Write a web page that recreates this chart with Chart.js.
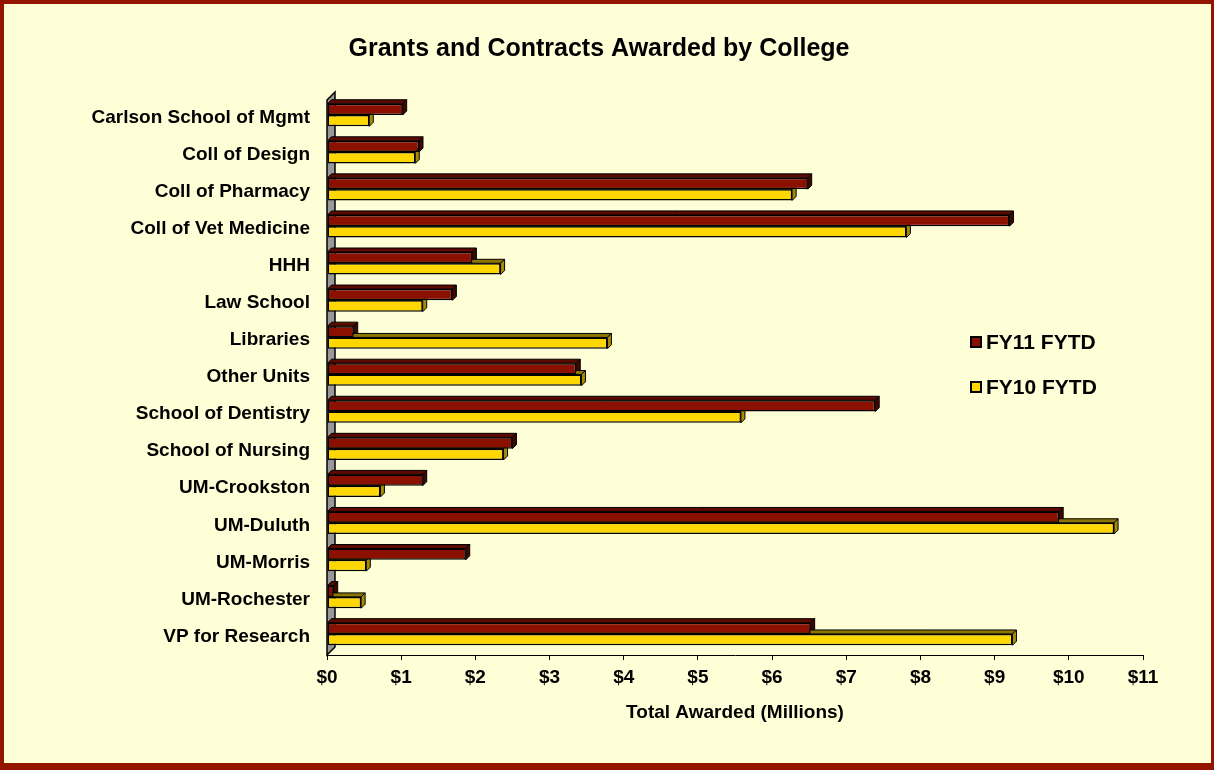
<!DOCTYPE html>
<html>
<head>
<meta charset="utf-8">
<script src="https://cdn.jsdelivr.net/npm/chart.js@4.4.0/dist/chart.umd.min.js"></script>
<style>
  html, body { margin: 0; padding: 0; }
  body { width: 1214px; height: 770px; position: relative; overflow: hidden; background: #931500; }
  #frame { position: absolute; left: 4px; top: 4px; width: 1207px; height: 759px; background: #FFFFD7; }
  #wrap { position: absolute; left: 0; top: 0; width: 1214px; height: 770px; }
  .legend { position: absolute; left: 970px; font: bold 21px "Liberation Sans", Arial, sans-serif; color: #000; }
  .legend span.box { display: inline-block; width: 8px; height: 8px; border: 2px solid #000; margin-right: 4px; vertical-align: 1px; }
</style>
</head>
<body>
<div id="frame"></div>
<div id="wrap"><canvas id="grantsChart" width="1214" height="770"></canvas></div>
<div class="legend" style="top:330px"><span class="box" style="background:#8B1000"></span>FY11 FYTD</div>
<div class="legend" style="top:375px"><span class="box" style="background:#FFD700"></span>FY10 FYTD</div>
<script>
const colleges = [
  'Carlson School of Mgmt', 'Coll of Design', 'Coll of Pharmacy', 'Coll of Vet Medicine',
  'HHH', 'Law School', 'Libraries', 'Other Units', 'School of Dentistry',
  'School of Nursing', 'UM-Crookston', 'UM-Duluth', 'UM-Morris', 'UM-Rochester',
  'VP for Research'
];
const fy11 = [1.02, 1.24, 6.48, 9.20, 1.96, 1.69, 0.36, 3.36, 7.39, 2.50, 1.29, 9.87, 1.87, 0.09, 6.52];
const fy10 = [0.57, 1.19, 6.27, 7.81, 2.34, 1.29, 3.78, 3.43, 5.58, 2.38, 0.72, 10.61, 0.53, 0.46, 9.24];
const tickMin = 0;
const tickMax = 11;

const FONT = '"Liberation Sans", Arial, sans-serif';
const DEPTH = 4;

/* fake 3D: grey wall + top/side faces of each bar */
const bars3d = {
  id: 'bars3d',
  beforeDatasetsDraw(chart) {
    const ctx = chart.ctx;
    const a = chart.chartArea;
    ctx.save();
    ctx.beginPath();
    ctx.moveTo(a.left, a.top + 1);
    ctx.lineTo(a.left + 8, a.top - 7);
    ctx.lineTo(a.left + 8, a.bottom - 8);
    ctx.lineTo(a.left, a.bottom);
    ctx.closePath();
    ctx.fillStyle = '#999999';
    ctx.fill();
    ctx.strokeStyle = '#000';
    ctx.lineWidth = 1.5;
    ctx.stroke();
    ctx.restore();

    ctx.save();
    ctx.translate(0, -2.5);
    const shades = [['#5C0A00', '#3F0700'], ['#8C7500', '#A88C00']];
    chart.data.datasets.forEach((ds, di) => {
      chart.getDatasetMeta(di).data.forEach(bar => {
        const p = bar.getProps(['x', 'y', 'base', 'height'], true);
        const x0 = p.base, x1 = p.x;
        const y0 = p.y - p.height / 2, y1 = p.y + p.height / 2;
        ctx.lineWidth = 1;
        ctx.strokeStyle = '#000';
        // top face
        ctx.beginPath();
        ctx.moveTo(x0, y0);
        ctx.lineTo(x0 + DEPTH, y0 - DEPTH);
        ctx.lineTo(x1 + DEPTH, y0 - DEPTH);
        ctx.lineTo(x1, y0);
        ctx.closePath();
        ctx.fillStyle = shades[di][0];
        ctx.fill();
        ctx.stroke();
        // right face
        ctx.beginPath();
        ctx.moveTo(x1, y0);
        ctx.lineTo(x1 + DEPTH, y0 - DEPTH);
        ctx.lineTo(x1 + DEPTH, y1 - DEPTH);
        ctx.lineTo(x1, y1);
        ctx.closePath();
        ctx.fillStyle = shades[di][1];
        ctx.fill();
        ctx.stroke();
      });
    });
  },
  afterDatasetsDraw(chart) {
    chart.ctx.restore();
  }
};

new Chart(document.getElementById('grantsChart'), {
  type: 'bar',
  data: {
    labels: colleges,
    datasets: [{
      label: 'FY11 FYTD',
      data: fy11,
      backgroundColor: '#8B1000',
      borderColor: '#000',
      borderWidth: 1.5,
      borderSkipped: false,
      categoryPercentage: 0.61,
      barPercentage: 1
    }, {
      label: 'FY10 FYTD',
      data: fy10,
      backgroundColor: '#FFD700',
      borderColor: '#000',
      borderWidth: 1.5,
      borderSkipped: false,
      categoryPercentage: 0.61,
      barPercentage: 1
    }]
  },
  options: {
    indexAxis: 'y',
    responsive: false,
    animation: false,
    layout: { padding: { left: 55, right: 71, top: 34, bottom: 46 } },
    plugins: {
      legend: { display: false },
      tooltip: { enabled: false },
      title: {
        display: true,
        text: 'Grants and Contracts Awarded by College',
        color: '#000',
        font: { family: FONT, size: 25, weight: 'bold' },
        padding: { top: 0, bottom: 35 }
      }
    },
    scales: {
      x: {
        min: tickMin,
        max: tickMax,
        ticks: {
          stepSize: 1,
          color: '#000',
          padding: 6,
          font: { family: FONT, size: 19, weight: 'bold' },
          callback: v => '$' + v
        },
        grid: { display: true, drawOnChartArea: false, drawTicks: true, tickLength: 5, color: '#000' },
        border: { display: true, color: '#000', width: 1 },
        title: {
          display: true,
          text: 'Total Awarded (Millions)',
          color: '#000',
          font: { family: FONT, size: 19, weight: 'bold' },
          padding: 0
        },
        afterFit(scale) { scale.height = 69; }
      },
      y: {
        ticks: {
          color: '#000',
          padding: 17,
          font: { family: FONT, size: 19, weight: 'bold' }
        },
        grid: { display: false, drawTicks: false },
        border: { display: false },
        afterFit(scale) { scale.width = 272; }
      }
    }
  },
  plugins: [bars3d]
});
</script>
</body>
</html>
